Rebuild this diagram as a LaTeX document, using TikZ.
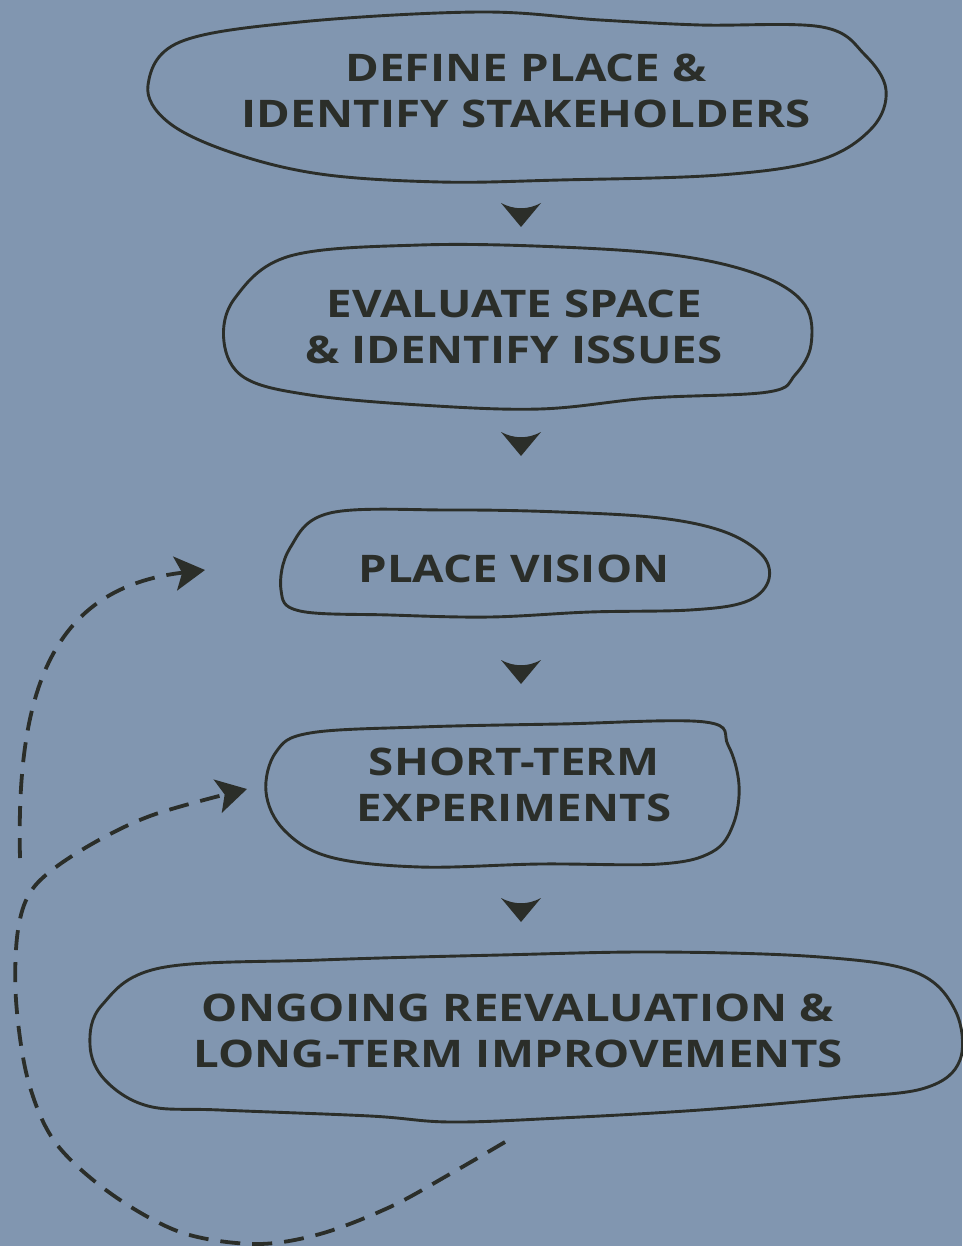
\documentclass[tikz,border=0pt]{standalone}
\usepackage{fontspec}
\newfontfamily\stagefont{Open Sans}[FakeStretch=1.2,LetterSpace=0.5]
\usetikzlibrary{arrows.meta}
\definecolor{slate}{HTML}{8196B0}
\definecolor{ink}{HTML}{2B2E29}

\begin{document}
\begin{tikzpicture}[x=1pt,y=-1pt,
  stagetext/.style={text=ink,font=\stagefont\bfseries\fontsize{38}{46}\selectfont,align=center,inner sep=0pt},
  blob/.style={draw=ink,line width=2.9pt,line join=round},
  feedback/.style={draw=ink,line width=3.8pt,dash pattern=on 20pt off 12pt,
    -{Stealth[length=30pt,width=34pt,inset=7pt]}}]

\fill[slate] (0,0) rectangle (962,1246);
\useasboundingbox (0,0) rectangle (962,1246);

\def\downtip#1{
  \fill[ink] (501,#1) .. controls (514,#1+7) and (528,#1+7) .. (541,#1) -- (521,#1+24) -- cycle;
}

% stages
\node[stagetext] (define)  at (526,91)   {DEFINE PLACE \&\\IDENTIFY STAKEHOLDERS};
\node[stagetext] (evaluate) at (514,327) {EVALUATE SPACE\\\& IDENTIFY ISSUES};
\node[stagetext] (vision)  at (514,569)  {PLACE VISION};
\node[stagetext] (trial)   at (514,785)  {SHORT-TERM\\EXPERIMENTS};
\node[stagetext] (ongoing) at (518,1031) {ONGOING REEVALUATION \&\\LONG-TERM IMPROVEMENTS};

% hand drawn outlines
\draw[blob] plot[smooth cycle,tension=0.6] coordinates {(180,42) (300,22) (480,12) (600,20) (700,25) (822,27)
  (865,55) (886,90) (872,128) (820,160) (720,175) (560,180) (440,182) (320,174) (230,152) (168,122) (148,85)};
\draw[blob] plot[smooth cycle,tension=0.6] coordinates {(290,256) (420,245) (560,247) (680,256) (762,276)
  (805,305) (811,345) (795,375) (768,392) (650,398) (540,409) (420,405) (310,395) (245,378) (224,342) (235,298)};
\draw[blob] plot[smooth cycle,tension=0.6] coordinates {(330,513) (450,510) (560,512) (660,518) (725,532)
  (763,556) (768,582) (745,602) (690,610) (590,612) (490,617) (390,615) (300,611) (281,590) (290,548)};
\draw[blob] plot[smooth cycle,tension=0.6] coordinates {(310,733) (420,727) (560,724) (705,722) (728,745)
  (739,785) (733,825) (712,852) (660,864) (540,864) (420,867) (330,857) (284,830) (266,792) (276,752)};
\draw[blob] plot[smooth cycle,tension=0.6] coordinates {(160,968) (320,960) (500,955) (660,952) (820,957)
  (915,972) (955,1010) (960,1060) (925,1088) (840,1098) (700,1110) (560,1118) (450,1122) (370,1116)
  (220,1110) (148,1106) (105,1080) (90,1045) (102,1005)};

% flow between stages
\foreach \y in {203,432,660,898} {\downtip\y}

% feedback loops
\coordinate (visionin) at (205,570);
\coordinate (trialin)  at (247,789);
\coordinate (loopout)  at (505,1142);
\coordinate (branch)   at (20,858);
\draw[feedback] (branch) .. controls (16,690) and (52,588) .. (visionin);
\draw[feedback] plot[smooth,tension=0.55] coordinates {(loopout) (450,1174) (390,1207) (320,1234) (255,1244)
  (180,1232) (110,1193) (55,1142) (28,1080) (16,1000) (18,930) (34,887) (80,851) (150,816) (trialin)};

\end{tikzpicture}
\end{document}
